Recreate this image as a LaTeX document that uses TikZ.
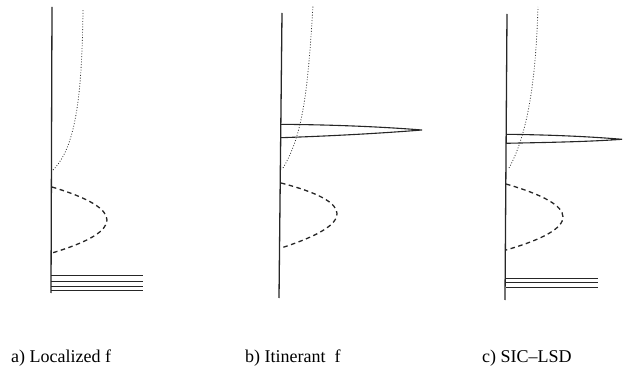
\documentclass[tikz,border=0pt]{standalone}
\usepackage{fontspec}
\setmainfont{Liberation Serif}
\usepackage{tikz}
\usetikzlibrary{positioning}

\begin{document}
\begin{tikzpicture}[x=1pt,y=-1pt,
  % ── line styles ──────────────────────────────────────────
  axisline/.style={line width=1.3pt, black!85},
  dosline/.style={dash pattern=on 0.9pt off 1.8pt, line width=0.8pt, black!80},
  bandline/.style={dash pattern=on 4.5pt off 3.5pt, line width=1.3pt, black!85},
  spikeline/.style={line width=1.1pt, black!85},
  levelline/.style={line width=1pt, black!85},
  % ── caption ──────────────────────────────────────────────
  caption/.style={anchor=base west, inner sep=0pt,
                  font=\rmfamily\fontsize{18}{20}\selectfont}
]
\useasboundingbox (0,0) rectangle (624,374);

%% ── a) Localized f ──
\draw[axisline] (52,7) -- (51,293);
\draw[dosline] (53,170) .. controls (75,148) and (82,100) .. (83,9);
\draw[bandline] (52,187) .. controls (125.3,209) and (125.3,231) .. (52,253);
\foreach \y in {276,281,286,290}
  \draw[levelline] (51,\y) -- (143,\y);
\node[caption] (capA) at (11,362) {a) Localized f};

%% ── b) Itinerant f ──
\draw[axisline] (282,13) -- (279,298);
\draw[dosline] (283,168) .. controls (303,135) and (308,90) .. (313,5);
\draw[spikeline] (281,124.3) .. controls (333.7,124.8) and (380.7,126.7) .. (422,130)
                 .. controls (380.7,133.3) and (333.7,135.9) .. (281,137.7);
\draw[bandline] (281,183) .. controls (355.7,202.3) and (355.7,224) .. (281,248);
\node[caption] (capB) at (245,362) {b) Itinerant~ f};

%% ── c) SIC-LSD ──
\draw[axisline] (507,14) -- (505,300);
\draw[dosline] (509,168) .. controls (530,130) and (536,70) .. (538,7);
\draw[spikeline] (506,134.3) .. controls (548.7,134.8) and (587.3,136.4) .. (622,139.3)
                 .. controls (587.3,141.8) and (548.7,142.4) .. (506,143.3);
\draw[bandline] (506,184) .. controls (582,206) and (582,228) .. (506,250);
\foreach \y in {278.3,282.7,287.3}
  \draw[levelline] (506,\y) -- (598,\y);
\node[caption] (capC) at (482,362) {c) SIC–LSD};

\end{tikzpicture}
\end{document}
